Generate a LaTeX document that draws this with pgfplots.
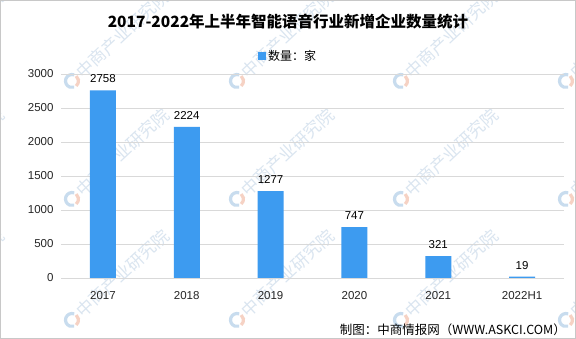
\documentclass[border=0pt]{standalone}
\usepackage{pgfplots}
\pgfplotsset{compat=1.18}
\usepackage{fontspec}
\setmainfont{Liberation Sans}
\newfontfamily\cjk{Noto Sans CJK SC}
\definecolor{barblue}{RGB}{61,155,240}
\definecolor{gridgrey}{RGB}{217,217,217}
\definecolor{wmtext}{RGB}{218,229,240}
\definecolor{wmblue}{RGB}{200,220,238}
\definecolor{wmorange}{RGB}{246,210,196}
\definecolor{framegrey}{RGB}{200,200,200}
\begin{document}
\begin{tikzpicture}[x=1pt,y=1pt]
\useasboundingbox (0,0) rectangle (576,339);
\fill[white] (0,0) rectangle (576,339);
% watermarks
\begin{scope}
\clip (0,0) rectangle (576,339);
\foreach \wx in {-93,72,237,401,566}{
  \foreach \wy in {81,199,320}{
    \begin{scope}[shift={(\wx,339-\wy)}]
      \draw[wmblue,line width=3.2] (70:6.5) arc (70:290:6.5);
      \draw[wmorange,line width=3.2] (-50:6.5) arc (-50:50:6.5);
      \node[anchor=west,rotate=43,inner sep=0,text=wmtext,font=\cjk\fontsize{17}{17}\selectfont] at (7,6) {中商产业研究院};
    \end{scope}
  }
}
\end{scope}
\begin{axis}[
  at={(61pt,61pt)}, anchor=south west,
  scale only axis, width=503pt, height=204pt,
  xmin=-0.5, xmax=5.5, ymin=0, ymax=3000,
  axis line style={draw=none},
  major tick length=0pt,
  ytick={0,500,...,3000},
  ymajorgrids, grid style={gridgrey, line width=0.9pt},
  xtick={0,1,2,3,4,5},
  xticklabels={2017,2018,2019,2020,2021,2022H1},
  /pgf/number format/assume math mode=true,
  /pgf/number format/1000 sep={},
  tick label style={font=\fontsize{11.5}{12}\selectfont, text=black!85},
  xticklabel style={yshift=-10pt},
  yticklabel style={xshift=-4pt},
  clip=false,
]
\addplot[ybar, bar width=26pt, fill=barblue, draw=none,
  nodes near coords,
  nodes near coords style={font=\fontsize{11.5}{12}\selectfont, text=black, anchor=south, yshift=4pt},
  point meta=explicit symbolic]
  coordinates {(0,2758)[2758] (1,2224)[2224] (2,1277)[1277] (3,747)[747] (4,321)[321] (5,19)[19]};
\end{axis}
% title
\node[font=\cjk\bfseries\fontsize{15.5}{16}\selectfont] at (288,339-22) {2017-2022年上半年智能语音行业新增企业数量统计};
% legend
\fill[barblue] (258,339-60) rectangle (265.5,339-52.5);
\node[anchor=west, inner sep=0, font=\cjk\fontsize{12}{12}\selectfont] at (268,339-56) {数量：家};
% source
\node[anchor=east, inner sep=0, font=\cjk\fontsize{12.5}{13}\selectfont] at (566,339-330) {制图：中商情报网（WWW.ASKCI.COM）};
\draw[framegrey, line width=1pt] (0.5,0.5) rectangle (575.5,338.5);
\end{tikzpicture}
\end{document}
